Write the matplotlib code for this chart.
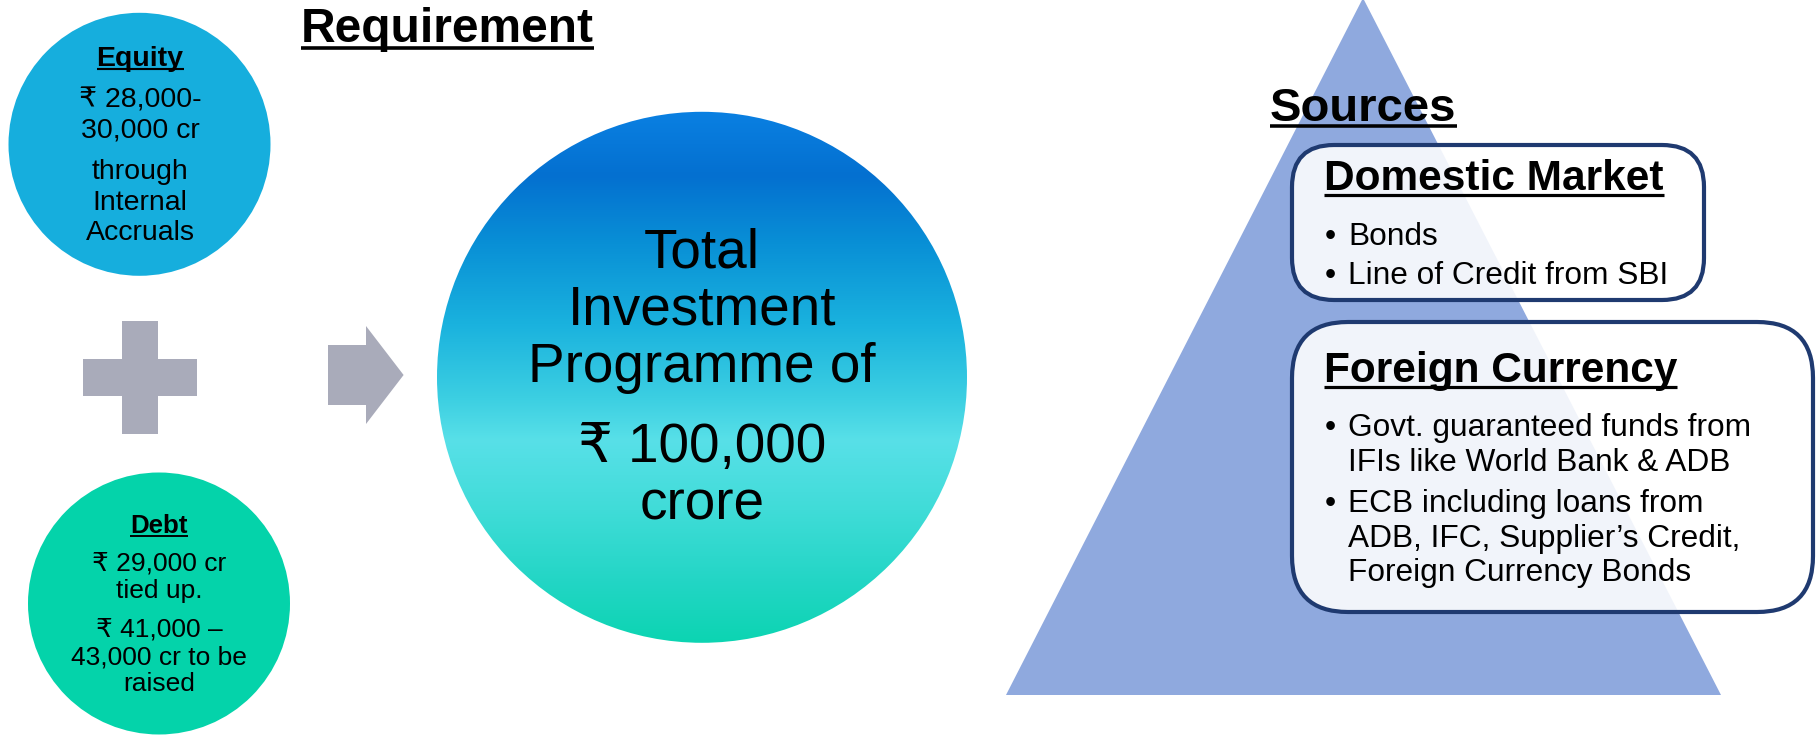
import numpy as np
import matplotlib
matplotlib.use("Agg")
import matplotlib.pyplot as plt
from matplotlib.patches import Ellipse, Polygon, Rectangle, FancyBboxPatch
from matplotlib.colors import LinearSegmentedColormap

plt.rcParams['font.family'] = ['Liberation Sans', 'DejaVu Sans']

# texts of the diagram
title_left = "Requirement"
title_right = "Sources"
equity_head = "Equity"
equity_lines = ["₹ 28,000-", "30,000 cr", "through", "Internal", "Accruals"]
debt_head = "Debt"
debt_lines = ["₹ 29,000 cr", "tied up.", "₹ 41,000 –", "43,000 cr to be", "raised"]
total_lines = ["Total", "Investment", "Programme of", "₹ 100,000", "crore"]
dom_head = "Domestic Market"
dom_items = ["Bonds", "Line of Credit from SBI"]
for_head = "Foreign Currency"
for_items = [["Govt. guaranteed funds from", "IFIs like World Bank & ADB"],
             ["ECB including loans from", "ADB, IFC, Supplier’s Credit,", "Foreign Currency Bonds"]]

W, H = 1817, 737
fig = plt.figure(figsize=(W / 100, H / 100), dpi=100)
ax = fig.add_axes([0, 0, 1, 1])
ax.set_xlim(0, W)
ax.set_ylim(H, 0)
ax.axis('off')

grey = '#a9abba'
navy = '#1f3a70'

# left circles
ax.add_patch(Ellipse((139.5, 144.3), 262, 263, color='#16aedd', lw=0))
ax.add_patch(Ellipse((159, 603.5), 262, 262, color='#04d3aa', lw=0))

# plus sign and arrow
ax.add_patch(Rectangle((121.7, 320.7), 36, 113.3, color=grey, lw=0))
ax.add_patch(Rectangle((83, 359), 113.7, 36.7, color=grey, lw=0))
ax.add_patch(Polygon([(328, 345), (366, 345), (366, 326), (403.6, 375),
                      (366, 424), (366, 405), (328, 405)], closed=True, color=grey, lw=0))

# big gradient circle
cmap = LinearSegmentedColormap.from_list('g', [
    (0.0, '#0a80e2'), (0.12, '#0470d0'), (0.25, '#0990d6'), (0.40, '#1ab2de'),
    (0.54, '#3ccfe2'), (0.62, '#58e0e8'), (0.75, '#40dcd8'), (0.88, '#24d6c6'),
    (1.0, '#0cd4b2')])
big = Ellipse((702, 377.3), 530, 531, facecolor='none', lw=0)
ax.add_patch(big)
grad = np.linspace(0, 1, 256).reshape(-1, 1)
im = ax.imshow(grad, cmap=cmap, extent=[437, 967, 643, 111.6], aspect='auto', zorder=1)
im.set_clip_path(big)

# triangle
ax.add_patch(Polygon([(1006, 695), (1363, -2), (1721, 695)], closed=True,
                     color='#8fa9de', lw=0, zorder=1))

# boxes
for (x0, y0, x1, y1, r) in [(1292, 145, 1704, 300, 42), (1292, 322, 1813, 612, 56)]:
    ax.add_patch(FancyBboxPatch((x0, y0), x1 - x0, y1 - y0,
                                boxstyle=f"round,pad=0,rounding_size={r}",
                                facecolor=(1, 1, 1, 0.88), edgecolor=navy, lw=3, zorder=2))

texts_ul = []

def txt(x, y, s, size, bold=False, ha='center', ul=False, z=3):
    t = ax.text(x, y, s, fontsize=size, fontweight='bold' if bold else 'normal',
                ha=ha, va='baseline', color='black', zorder=z)
    if ul:
        texts_ul.append((t, y, size))
    return t

# titles
txt(301, 42.4, title_left, 34.5, bold=True, ha='left', ul=True)
txt(1270, 120.6, title_right, 34, bold=True, ha='left', ul=True)

# equity
txt(140, 65.7, equity_head, 20.5, bold=True, ul=True)
for y, s in zip([107.3, 137.3, 179.3, 210, 240], equity_lines):
    txt(140, y, s, 20.5)

# debt
txt(159, 533, debt_head, 18.6, bold=True, ul=True)
for y, s in zip([570.7, 598, 636.3, 664, 691.3], debt_lines):
    txt(159, y, s, 19)

# big circle text
for y, s in zip([267, 324.5, 381.7, 462, 520], total_lines):
    txt(702, y, s, 39.5)

# domestic market
txt(1324, 189.7, dom_head, 30.5, bold=True, ha='left', ul=True)
for y, s in zip([244.7, 284.4], dom_items):
    txt(1325, y, "•", 22.8, ha='left')
    txt(1348.5, y, s, 22.8, ha='left')

# foreign currency
txt(1324, 382, for_head, 30.5, bold=True, ha='left', ul=True)
ys = [[436.3, 471.4], [511.6, 546.7, 581]]
for item, yy in zip(for_items, ys):
    txt(1325, yy[0], "•", 22.8, ha='left')
    for y, s in zip(yy, item):
        txt(1348.5, y, s, 22.8, ha='left')

# underlines from the rendered text extents
fig.canvas.draw()
r = fig.canvas.get_renderer()
inv = ax.transData.inverted()
for t, y, size in texts_ul:
    bb = t.get_window_extent(r)
    (xa, _), (xb, _) = inv.transform([(bb.x0, bb.y0), (bb.x1, bb.y1)])
    off = size * 0.17
    ax.plot([xa, xb], [y + off, y + off], color='black', lw=size * 0.075,
            solid_capstyle='butt', zorder=3)

fig.savefig('out.png', dpi=100)
